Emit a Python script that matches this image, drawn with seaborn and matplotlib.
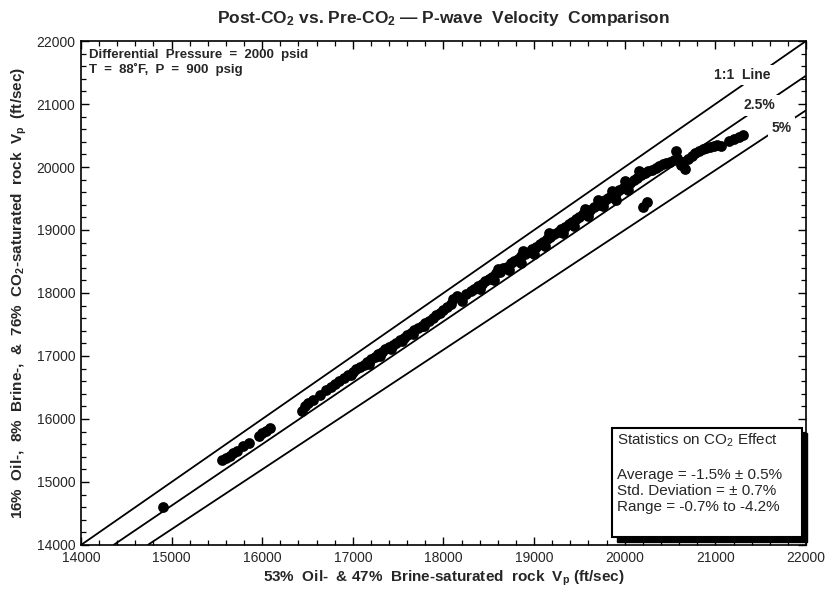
import matplotlib
matplotlib.use("Agg")
import matplotlib.pyplot as plt
from matplotlib.patches import Rectangle
from matplotlib.ticker import MultipleLocator
import pandas as pd
import seaborn as sns

# Pre-CO2 (53% oil / 47% brine) P-wave velocity, ft/sec
vp_pre = [
    14900, 15560, 15600, 15640, 15680, 15720, 15790, 15850, 15960, 16000,
    16040, 16090, 16440, 16470, 16510, 16560, 16640, 16700, 16760, 16800,
    16850, 16900, 16950, 17000, 17040, 17080, 17120, 17160, 17200, 17240,
    17280, 17320, 17360, 17400, 17440, 17480, 17520, 17560, 17600, 17640,
    17680, 17720, 17760, 17800, 17840, 17880, 17920, 17960, 18000, 18040,
    18080, 18110, 18150, 18250, 18300, 18340, 18380, 18420, 18460, 18500,
    18540, 18580, 18620, 18660, 18700, 18740, 18780, 18820, 18860, 18900,
    18940, 18980, 19020, 19060, 19100, 19140, 19180, 19220, 19260, 19300,
    19340, 19380, 19420, 19460, 19500, 19540, 19580, 19620, 19660, 19700,
    19740, 19780, 19820, 19860, 19900, 19940, 19980, 20020, 20060, 20100,
    20140, 20180, 20220, 20260, 20300, 20340, 20380, 20420, 20460, 20500,
    20540, 20580, 20560, 20620, 20660, 20640, 20700, 20740, 20780, 20820,
    20860, 20900, 20940, 20980, 21020, 21060, 21150, 21200, 21260, 21310,
    20200, 20240, 16980, 17180, 17300, 17420, 17540, 17660, 17780, 18200,
    18400, 18560, 18720, 18850, 19000, 19120, 19320, 19440, 19600, 19760,
    19900, 20040, 19560, 19700, 19860, 20000, 20160, 18600, 18880, 19160,
]

# Post-CO2 (16% oil / 8% brine / 76% CO2) P-wave velocity, ft/sec
vp_post = [
    14600, 15350, 15380, 15420, 15460, 15490, 15570, 15620, 15730, 15780,
    15810, 15860, 16120, 16200, 16260, 16300, 16380, 16460, 16510, 16560,
    16600, 16650, 16700, 16740, 16790, 16830, 16860, 16900, 16950, 16980,
    17030, 17060, 17110, 17140, 17180, 17210, 17260, 17290, 17340, 17370,
    17410, 17450, 17480, 17530, 17560, 17610, 17650, 17680, 17730, 17780,
    17820, 17900, 17960, 17980, 18030, 18070, 18110, 18150, 18190, 18230,
    18260, 18310, 18340, 18390, 18420, 18470, 18500, 18540, 18580, 18620,
    18650, 18700, 18730, 18780, 18810, 18850, 18890, 18930, 18970, 19010,
    19050, 19090, 19120, 19170, 19200, 19250, 19280, 19320, 19360, 19400,
    19430, 19480, 19510, 19560, 19590, 19640, 19670, 19720, 19750, 19800,
    19830, 19870, 19900, 19940, 19960, 19990, 20010, 20040, 20060, 20080,
    20110, 20140, 20250, 20030, 19970, 20080, 20130, 20170, 20220, 20250,
    20280, 20300, 20320, 20340, 20350, 20340, 20420, 20450, 20480, 20510,
    19360, 19450, 16700, 16880, 17000, 17110, 17240, 17350, 17470, 17870,
    18060, 18200, 18370, 18480, 18620, 18740, 18960, 19060, 19220, 19380,
    19480, 19640, 19330, 19480, 19620, 19780, 19940, 18380, 18660, 18950,
]

# Reference lines: 1:1 and 2.5% / 5% velocity reduction
line_factors = [1.0, 0.975, 0.95]
line_labels = ["1:1  Line", "2.5%", "5%"]
label_x = [21300, 21490, 21730]
label_dy = [160, 30, -20]

x_ticks = [14000, 15000, 16000, 17000, 18000, 19000, 20000, 21000, 22000]
y_ticks = [14000, 15000, 16000, 17000, 18000, 19000, 20000, 21000, 22000]

stats_title = "Statistics on CO$_2$ Effect"
stats_lines = ["Average = -1.5% ± 0.5%",
               "Std. Deviation = ± 0.7%",
               "Range = -0.7% to -4.2%"]

df = pd.DataFrame({"pre": vp_pre, "post": vp_post})

sns.set_theme(style="white")
plt.rcParams["font.family"] = ["Liberation Sans", "DejaVu Sans"]
plt.rcParams["mathtext.fontset"] = "custom"
plt.rcParams["mathtext.rm"] = "Liberation Sans"
plt.rcParams["mathtext.it"] = "Liberation Sans:italic"
plt.rcParams["mathtext.bf"] = "Liberation Sans:bold"

fig = plt.figure(figsize=(8.33, 6.03), dpi=100)
ax = fig.add_axes([0.0972, 0.0962, 0.8704, 0.8358])

lo, hi = 14000, 22000
for f, lab, lx, dy in zip(line_factors, line_labels, label_x, label_dy):
    x0 = lo / f
    ax.plot([x0, hi], [x0 * f, hi * f], color="black", lw=1.3, zorder=2,
            solid_capstyle="butt")
    ax.text(lx, lx * f + dy, lab, ha="center", va="center", fontsize=10,
            fontweight="bold", zorder=3,
            bbox=dict(facecolor="white", edgecolor="none", pad=2.5))

sns.scatterplot(data=df, x="pre", y="post", ax=ax, color="black", s=60,
                edgecolor="black", linewidth=0, zorder=4, legend=False)

ax.set_xlim(lo, hi)
ax.set_ylim(lo, hi)
ax.set_xticks(x_ticks)
ax.set_yticks(y_ticks)
ax.xaxis.set_minor_locator(MultipleLocator(200))
ax.yaxis.set_minor_locator(MultipleLocator(200))
ax.tick_params(which="both", direction="in", top=True, right=True,
               bottom=True, left=True, color="black")
ax.tick_params(which="major", length=6, width=1.0, labelsize=10, pad=4)
ax.tick_params(which="minor", length=3.5, width=0.9)
for sp in ax.spines.values():
    sp.set_color("black")
    sp.set_linewidth(1.2)

ax.set_xlabel(r"53%  Oil-  & 47%  Brine-saturated  rock  V$_\mathbf{p}$ (ft/sec)",
              fontsize=11, fontweight="bold", labelpad=3)
ax.set_ylabel(r"16%  Oil-,  8%  Brine-,  &  76%  CO$_\mathbf{2}$-saturated  rock  V$_\mathbf{p}$  (ft/sec)",
              fontsize=11, fontweight="bold", labelpad=5)
ax.set_title(r"Post-CO$_\mathbf{2}$ vs. Pre-CO$_\mathbf{2}$ — P-wave  Velocity  Comparison",
             fontsize=12.5, fontweight="bold", pad=13)

ax.text(0.011, 0.985, "Differential  Pressure  =  2000  psid\nT  =  88˚F,  P  =  900  psig",
        transform=ax.transAxes, ha="left", va="top", fontsize=9.5,
        fontweight="bold", linespacing=1.25)

# Statistics box with drop shadow
bx0, by0, bw, bh = 0.732, 0.016, 0.262, 0.216
ax.add_patch(Rectangle((bx0 + 0.007, by0 - 0.010), bw, bh, transform=ax.transAxes,
                       facecolor="black", edgecolor="black", zorder=5, clip_on=False))
ax.add_patch(Rectangle((bx0, by0), bw, bh, transform=ax.transAxes,
                       facecolor="white", edgecolor="black", lw=1.5, zorder=6,
                       clip_on=False))
ax.text(bx0 + 0.007, 0.225, stats_title, transform=ax.transAxes,
        ha="left", va="top", fontsize=11, zorder=7)
ax.text(bx0 + 0.007, 0.153, "\n".join(stats_lines), transform=ax.transAxes,
        ha="left", va="top", fontsize=11, linespacing=1.2, zorder=7)

fig.savefig("out.png", dpi=100, facecolor="white")
